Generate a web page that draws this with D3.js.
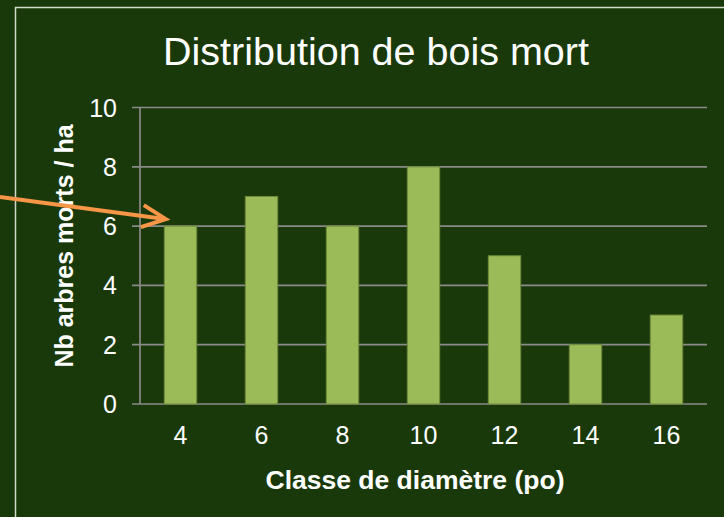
<!DOCTYPE html>
<html><head><meta charset="utf-8">
<script src="https://cdn.jsdelivr.net/npm/d3@7"></script>
<style>html,body{margin:0;padding:0;background:#1A390B;}svg{display:block;}</style>
</head><body>
<svg id="c" width="724" height="517"></svg>
<script>
const categories = ["4","6","8","10","12","14","16"];
const values = [6,7,6,8,5,2,3];
const yTicks = [0,2,4,6,8,10];
const titleText = "Distribution de bois mort";
const xTitle = "Classe de diamètre (po)";
const yTitle = "Nb arbres morts / ha";

const svg = d3.select("#c");
const W = 724, H = 517;
svg.append("rect").attr("width",W).attr("height",H).attr("fill","#1A390B");
// frame
svg.append("path").attr("d","M15.5,517 V7.5 H724").attr("fill","none").attr("stroke","#D0D8C8").attr("stroke-width",1.5);

const x = d3.scaleBand().domain(categories).range([140,707]).paddingInner(0.6).paddingOuter(0.3);
const y = d3.scaleLinear().domain([0,10]).range([404,107.5]);

// gridlines
svg.append("g").selectAll("line").data(yTicks).join("line")
  .attr("x1",132).attr("x2",707).attr("y1",d=>y(d)).attr("y2",d=>y(d))
  .attr("stroke","#8A8A8A").attr("stroke-width",1.7);
// y axis line
svg.append("line").attr("x1",140).attr("x2",140).attr("y1",y(10)).attr("y2",y(0))
  .attr("stroke","#8A8A8A").attr("stroke-width",1.7);

// bars
svg.append("g").selectAll("rect").data(values).join("rect")
  .attr("x",(d,i)=>x(categories[i]))
  .attr("width",x.bandwidth())
  .attr("y",d=>y(d))
  .attr("height",d=>y(0)-y(d))
  .attr("fill","#9BBB59").attr("stroke","#6E8A3A").attr("stroke-width",1);

// y tick labels
svg.append("g").selectAll("text").data(yTicks).join("text")
  .attr("x",117).attr("y",d=>y(d)).attr("dy","0.36em")
  .attr("text-anchor","end").attr("fill","#FFFFFF")
  .attr("font-family","Liberation Sans, Arial, sans-serif").attr("font-size",25)
  .text(d=>d);
// x tick labels
svg.append("g").selectAll("text").data(categories).join("text")
  .attr("x",d=>x(d)+x.bandwidth()/2).attr("y",443.5)
  .attr("text-anchor","middle").attr("fill","#FFFFFF")
  .attr("font-family","Liberation Sans, Arial, sans-serif").attr("font-size",25)
  .text(d=>d);

// title
svg.append("text").attr("x",376).attr("y",65).attr("text-anchor","middle")
  .attr("fill","#FFFFFF").attr("font-family","Liberation Sans, Arial, sans-serif")
  .attr("font-size",39.5).text(titleText);
// x title
svg.append("text").attr("x",415).attr("y",489).attr("text-anchor","middle")
  .attr("fill","#FFFFFF").attr("font-family","Liberation Sans, Arial, sans-serif")
  .attr("font-weight","bold").attr("font-size",26.5).text(xTitle);
// y title
svg.append("text").attr("transform","translate(73,246) rotate(-90)").attr("text-anchor","middle")
  .attr("fill","#FFFFFF").attr("font-family","Liberation Sans, Arial, sans-serif")
  .attr("font-weight","bold").attr("font-size",25).text(yTitle);

// arrow annotation pointing at first bar
const tipX = x(categories[0]) + 1.5, tipY = y(values[0]) - 7;
const arrow = svg.append("g").attr("stroke","#F79646").attr("stroke-width",4)
  .attr("fill","none").attr("stroke-linecap","butt");
arrow.append("line").attr("x1",0).attr("y1",197).attr("x2",tipX-1).attr("y2",tipY);
arrow.append("path").attr("d",`M${tipX-22},${tipY-14} L${tipX},${tipY} L${tipX-25},${tipY+8}`)
  .attr("stroke-linejoin","miter");
</script>
</body></html>
